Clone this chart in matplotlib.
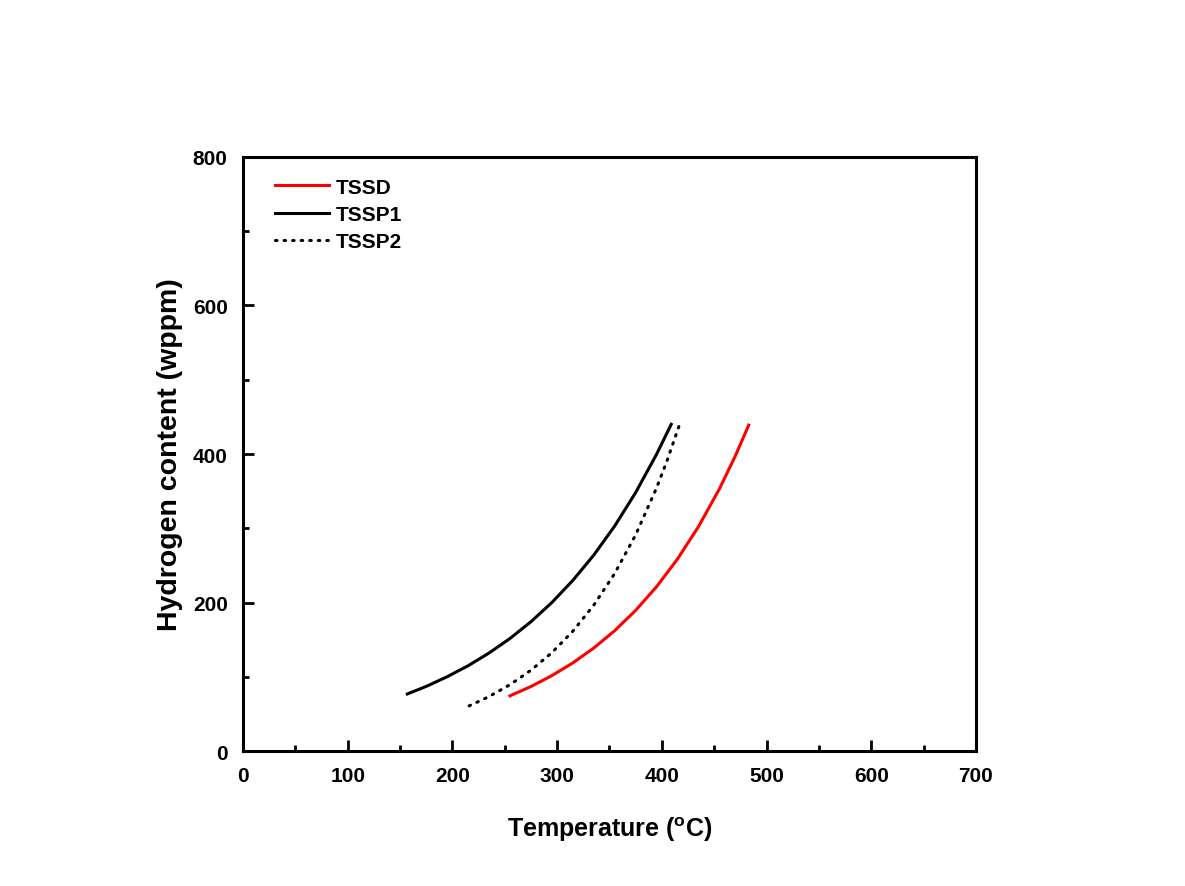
import matplotlib
matplotlib.use("Agg")
from matplotlib import pyplot as plt
from matplotlib.ticker import MultipleLocator

# values (temperature in C, hydrogen in wppm)
tssd_t = [255, 275, 295, 315, 335, 355, 375, 395, 415, 435, 455, 470, 483]
tssd_h = [74.5, 87, 101.7, 118.8, 138.8, 162.2, 189.5, 221.4, 258.7, 302.2, 353.1, 396.8, 439]

tssp1_t = [157, 175, 195, 215, 235, 255, 275, 295, 315, 335, 355, 375, 395, 409]
tssp1_h = [77, 87.2, 100.2, 115, 132.1, 151.7, 174.2, 200.1, 229.8, 263.9, 303.1, 348.1, 399.7, 440]

tssp2_t = [216, 235, 255, 275, 295, 315, 335, 355, 375, 395, 405, 417]
tssp2_h = [61, 73.5, 89.5, 108.9, 132.6, 161.4, 196.5, 239.2, 291.1, 354.4, 391, 440]

plt.rcParams['font.family'] = ['Liberation Sans', 'DejaVu Sans']
plt.rcParams['font.weight'] = 'bold'
plt.rcParams['mathtext.default'] = 'regular'

fig = plt.figure(figsize=(11.85, 8.87), dpi=100)
ax = fig.add_axes([0.205, 0.152, 0.6186, 0.670])

ax.plot(tssd_t, tssd_h, color='red', lw=2.2, label='TSSD')
ax.plot(tssp1_t, tssp1_h, color='black', lw=2.2, label='TSSP1')
ax.plot(tssp2_t, tssp2_h, color='black', lw=2.2, linestyle=(0, (0.5, 2.3)),
        dash_capstyle='round', label='TSSP2')

ax.set_xlim(0, 700)
ax.set_ylim(0, 800)
ax.xaxis.set_major_locator(MultipleLocator(100))
ax.xaxis.set_minor_locator(MultipleLocator(50))
ax.yaxis.set_major_locator(MultipleLocator(200))
ax.yaxis.set_minor_locator(MultipleLocator(100))
ax.tick_params(which='major', direction='in', length=8, width=2, labelsize=15, pad=11)
ax.tick_params(which='minor', direction='in', length=4.5, width=2)
for lab in ax.get_xticklabels() + ax.get_yticklabels():
    lab.set_fontweight('bold')
for sp in ax.spines.values():
    sp.set_linewidth(2.2)

ax.set_xlabel('Temperature ($^{o}$C)', fontsize=18, fontweight='bold', labelpad=21)
ax.set_ylabel('Hydrogen content (wppm)', fontsize=20.5, fontweight='bold', labelpad=7)

leg = ax.legend(loc='upper left', frameon=False, fontsize=15, handlelength=2.6,
                handletextpad=0.35, labelspacing=0.4, borderaxespad=0.6,
                bbox_to_anchor=(0.015, 1.0))
for t in leg.get_texts():
    t.set_fontweight('bold')

plt.savefig('out.png', dpi=100)
